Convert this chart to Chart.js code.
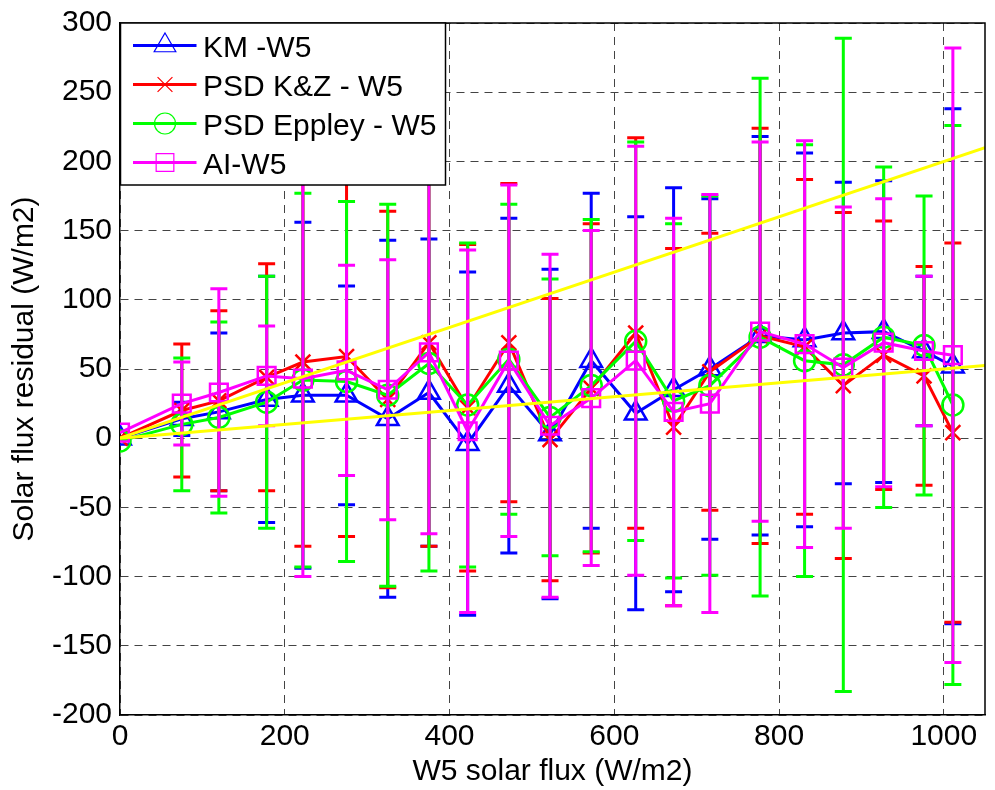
<!DOCTYPE html>
<html><head><meta charset="utf-8">
<script src="https://cdn.jsdelivr.net/npm/chart.js@4.4.1/dist/chart.umd.min.js"></script>
<style>
html,body{margin:0;padding:0;overflow:hidden;background:#fff;width:995px;height:790px}
canvas{display:block}
</style></head>
<body>
<canvas id="c" width="1000" height="790"></canvas>
<script>
// ---- data ----
const fluxX   = [0, 75, 120, 178, 222, 275, 325, 375, 422, 472, 522, 572, 626, 672, 716, 777, 831, 878, 927, 976, 1011];

const kmVals  = [0, 14, 19, 28, 31, 31, 14, 33, -4, 38, 3, 56, 18, 35, 50, 74, 71, 76, 77, 63, 52];
const kmErr   = [0, 12, 57, 89, 125, 79, 129, 111, 124, 121, 119, 121, 142, 146, 123, 144, 135, 109, 109, 54, 186];

const psdVals = [0, 20, 27, 44, 55, 59, 28, 69, 22, 69, -1, 36, 76, 8, 48, 74, 66, 38, 60, 45, 4];
const psdErr  = [0, 48, 65, 82, 133, 130, 136, 147, 118, 115, 102, 119, 141, 129, 100, 150, 121, 125, 97, 79, 137];

const eppVals = [-2, 10, 15, 26, 42, 41, 31, 54, 24, 57, 15, 38, 70, 27, 38, 73, 56, 53, 73, 67, 24];
const eppErr  = [0, 48, 69, 91, 135, 130, 138, 150, 117, 112, 100, 120, 144, 128, 137, 187, 156, 236, 123, 108, 202];

const aiVals  = [4, 25, 33, 45, 43, 49, 35, 62, 5, 56, 9, 29, 56, 19, 25, 77, 68, 51, 69, 63, 60];
const aiErr   = [0, 30, 75, 36, 143, 76, 94, 131, 131, 127, 124, 121, 155, 140, 151, 137, 147, 116, 104, 54, 222];

const refX    = [0, 1050];
const refHigh = [0, 210];
const refLow  = [0, 52.5];

const seriesLabels = ['KM -W5', 'PSD K&Z - W5', 'PSD Eppley - W5', 'AI-W5'];
const xTitle = 'W5 solar flux (W/m2)';
const yTitle = 'Solar flux residual (W/m2)';

// ---- styling ----
const FONT = "'Liberation Sans', Arial, Helvetica, sans-serif";
Chart.defaults.font.family = FONT;

function drawMarker(ctx, style, x, y, r) {
  ctx.beginPath();
  if (style === 'triangle') {
    let rad = 0;
    ctx.moveTo(x + Math.sin(rad) * r, y - Math.cos(rad) * r);
    rad += 2 * Math.PI / 3;
    ctx.lineTo(x + Math.sin(rad) * r, y - Math.cos(rad) * r);
    rad += 2 * Math.PI / 3;
    ctx.lineTo(x + Math.sin(rad) * r, y - Math.cos(rad) * r);
    ctx.closePath();
  } else if (style === 'circle') {
    ctx.arc(x, y, r, 0, Math.PI * 2);
  } else if (style === 'rect') {
    const s = Math.SQRT1_2 * r;
    ctx.rect(x - s, y - s, 2 * s, 2 * s);
  } else if (style === 'crossRot') {
    const s = Math.SQRT1_2 * r;
    ctx.moveTo(x - s, y - s); ctx.lineTo(x + s, y + s);
    ctx.moveTo(x - s, y + s); ctx.lineTo(x + s, y - s);
  }
  ctx.stroke();
}

function series(label, vals, errs, color, style, radius, order) {
  return {
    label, errors: errs, isSeries: true, markerStyle: style, markerRadius: radius,
    data: fluxX.map((x, i) => ({ x, y: vals[i] })),
    borderColor: color, backgroundColor: 'rgba(0,0,0,0)', borderWidth: 3,
    pointStyle: style, pointRadius: radius, pointHoverRadius: radius,
    pointBorderWidth: 2.5, pointBorderColor: color, pointBackgroundColor: 'rgba(0,0,0,0)',
    tension: 0, order
  };
}
function refLine(ys) {
  return {
    label: 'ref', isSeries: false,
    data: refX.map((x, i) => ({ x, y: ys[i] })),
    borderColor: '#ffff00', borderWidth: 3, pointRadius: 0, pointHoverRadius: 0,
    backgroundColor: 'rgba(0,0,0,0)', tension: 0, order: 0
  };
}

const errPlugin = {
  id: 'errbars',
  afterDatasetDraw(chart, args) {
    const ds = chart.data.datasets[args.index];
    if (!ds.errors) return;
    const ctx = chart.ctx, xs = chart.scales.x, ys = chart.scales.y, a = chart.chartArea;
    ctx.save();
    ctx.beginPath(); ctx.rect(a.left, a.top, a.right - a.left, a.bottom - a.top); ctx.clip();
    ctx.strokeStyle = ds.borderColor; ctx.lineWidth = 3; ctx.lineCap = 'butt';
    ds.data.forEach((p, i) => {
      const e = ds.errors[i];
      if (!e) return;
      const px = xs.getPixelForValue(p.x);
      const yt = ys.getPixelForValue(p.y + e);
      const yb = ys.getPixelForValue(p.y - e);
      ctx.beginPath();
      ctx.moveTo(px, yt); ctx.lineTo(px, yb);
      ctx.moveTo(px - 8.5, yt); ctx.lineTo(px + 8.5, yt);
      ctx.moveTo(px - 8.5, yb); ctx.lineTo(px + 8.5, yb);
      ctx.stroke();
    });
    ctx.restore();
  }
};

const framePlugin = {
  id: 'frame',
  afterDraw(chart) {
    const ctx = chart.ctx, a = chart.chartArea;
    ctx.save();
    ctx.strokeStyle = '#000'; ctx.lineWidth = 1.5;
    ctx.beginPath();
    ctx.moveTo(a.left, a.top); ctx.lineTo(a.right, a.top); ctx.lineTo(a.right, a.bottom);
    ctx.stroke();
    // legend box
    const bx = a.left + 0.5, by = a.top, bw = 325, bh = 162;
    ctx.fillStyle = '#fff';
    ctx.fillRect(bx, by, bw, bh);
    ctx.strokeRect(bx, by, bw, bh);
    const items = chart.data.datasets.filter(d => d.isSeries);
    items.forEach((d, i) => {
      const cy = by + 22.5 + 39 * i;
      ctx.strokeStyle = d.borderColor;
      ctx.lineWidth = 3;
      ctx.beginPath(); ctx.moveTo(bx + 12.5, cy); ctx.lineTo(bx + 76, cy); ctx.stroke();
      ctx.lineWidth = 1.2;
      drawMarker(ctx, d.markerStyle, bx + 44.5, cy, d.markerRadius);
      ctx.fillStyle = '#000';
      ctx.font = '30px ' + FONT;
      ctx.textBaseline = 'alphabetic';
      ctx.textAlign = 'left';
      ctx.fillText(d.label, bx + 82.5, cy + 11.5);
    });
    ctx.restore();
  }
};

new Chart(document.getElementById('c'), {
  type: 'line',
  data: {
    datasets: [
      series(seriesLabels[0], kmVals, kmErr, '#0000ff', 'triangle', 12.5, 4),
      series(seriesLabels[1], psdVals, psdErr, '#ff0000', 'crossRot', 10.5, 3),
      series(seriesLabels[2], eppVals, eppErr, '#00ff00', 'circle', 10.5, 2),
      series(seriesLabels[3], aiVals, aiErr, '#ff00ff', 'rect', 12.5, 1),
      refLine(refHigh),
      refLine(refLow)
    ]
  },
  options: {
    responsive: false, animation: false, devicePixelRatio: 1, events: [],
    layout: { padding: { top: 19, right: 4, left: 0, bottom: 0 } },
    plugins: { legend: { display: false }, tooltip: { enabled: false } },
    scales: {
      x: {
        type: 'linear', min: 0, max: 1050,
        ticks: { stepSize: 200, includeBounds: false, color: '#000', font: { size: 30, lineHeight: 1 }, padding: 7, maxRotation: 0, autoSkip: false,
                 callback: v => String(v) },
        grid: { color: '#444', lineWidth: 1, drawTicks: false },
        border: { display: true, color: '#000', width: 1.5, dash: [8, 6] },
        title: { display: true, text: xTitle, color: '#000', font: { size: 30, lineHeight: 1 }, padding: { top: 0, bottom: 3 } },
        afterFit(s) { s.height = 75; }
      },
      y: {
        type: 'linear', min: -200, max: 300,
        ticks: { stepSize: 50, color: '#000', font: { size: 30, lineHeight: 1 }, padding: 8, autoSkip: false,
                 callback: v => String(v) },
        grid: { color: '#444', lineWidth: 1, drawTicks: false },
        border: { display: true, color: '#000', width: 1.5, dash: [8, 6] },
        title: { display: true, text: yTitle, color: '#000', font: { size: 30, lineHeight: 1 }, padding: { top: 10, bottom: 0 } },
        afterFit(s) { s.width = 120; }
      }
    }
  },
  plugins: [errPlugin, framePlugin]
});
</script>
</body></html>
